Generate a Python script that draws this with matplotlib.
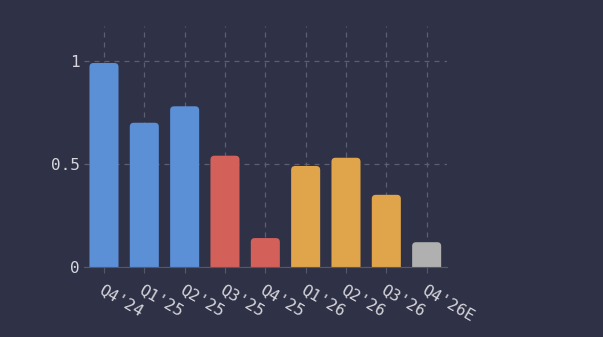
import matplotlib.pyplot as plt
import matplotlib.transforms as mtransforms
from matplotlib.patches import FancyBboxPatch

# data
quarters = ["Q4'24", "Q1'25", "Q2'25", "Q3'25", "Q4'25", "Q1'26", "Q2'26", "Q3'26", "Q4'26E"]
values = [0.99, 0.70, 0.78, 0.54, 0.14, 0.49, 0.53, 0.35, 0.12]
colors = ["#5b8fd6", "#5b8fd6", "#5b8fd6", "#d4605a", "#d4605a",
          "#e0a54a", "#e0a54a", "#e0a54a", "#b0b0b0"]

BG = "#2f3146"
plt.rcParams['font.family'] = ['DejaVu Sans Mono']

fig = plt.figure(figsize=(6.03, 3.37), dpi=100)
fig.patch.set_facecolor(BG)
ax = fig.add_axes([0.139, 0.208, 0.602, 0.715])
ax.set_facecolor(BG)

bars = ax.bar(range(len(values)), values, width=0.72, color=colors)

#swap plain bars for rounded ones
r = 0.1
asp = 0.19
for b in bars:
    x, w, h = b.get_x(), b.get_width(), b.get_height()
    b.set_visible(False)
    p = FancyBboxPatch((x + r, -r * asp), w - 2 * r, h,
                       boxstyle=f"round,pad={r},rounding_size={r}", mutation_aspect=asp,
                       facecolor=b.get_facecolor(), edgecolor='none', zorder=2)
    ax.add_patch(p)

ax.set_xlim(-0.5, 8.5)
ax.set_ylim(0, 1.17)
ax.set_yticks([0, 0.5, 1])
ax.set_yticklabels(['0', '0.5', '1'])
ax.set_xticks(range(len(quarters)))
ax.set_xticklabels(quarters, rotation=-30, ha='left', va='top', rotation_mode='anchor')

# nudge the rotated labels a little to the right
shift = mtransforms.ScaledTranslation(3 / 72, 0, fig.dpi_scale_trans)
for lbl in ax.get_xticklabels():
    lbl.set_transform(lbl.get_transform() + shift)

ax.grid(True, color='#5c5e72', linestyle=(0, (4, 4)), linewidth=0.9)
ax.set_axisbelow(True)
for s in ['top', 'right', 'left']:
    ax.spines[s].set_visible(False)
ax.spines['bottom'].set_color('#55576a')
ax.tick_params(axis='x', colors='#d6d6dc', labelsize=11.5, length=4, color='#55576a', pad=7)
ax.tick_params(axis='y', colors='#d6d6dc', labelsize=11.5, length=0, pad=3)

fig.savefig('out.png', dpi=100, facecolor=BG)
